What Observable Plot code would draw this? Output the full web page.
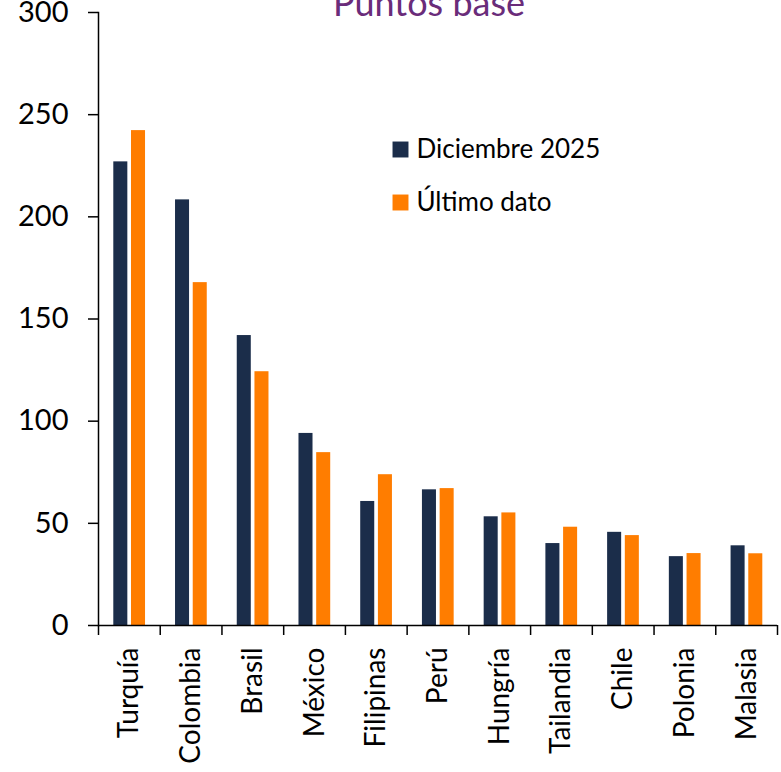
<!DOCTYPE html>
<html><head><meta charset="utf-8">
<script src="https://cdn.jsdelivr.net/npm/d3@7"></script>
<script src="https://cdn.jsdelivr.net/npm/@observablehq/plot@0.6"></script>
<style>body{margin:0;background:#fff} #chart svg{display:block;overflow:visible}</style>
</head><body><div id="chart"></div>
<script>
const countries = ["Turquía","Colombia","Brasil","México","Filipinas","Perú","Hungría","Tailandia","Chile","Polonia","Malasia"];
const series = ["Diciembre 2025","Último dato"];
const dic2025 = [226.9, 208.3, 141.9, 94.0, 60.7, 66.4, 53.2, 40.1, 45.6, 33.7, 39.0];
const ultimo = [242.2, 167.8, 124.2, 84.6, 73.8, 67.0, 55.1, 48.1, 44.0, 35.2, 35.1];
const colors = ["#1b2d4a", "#ff7d00"];
const yTicks = [0, 50, 100, 150, 200, 250, 300];
const title = "Puntos base";

const W = 781, H = 772;
const mL = 98, mR = 4, mT = 12, mB = 147;
const step = (W - mL - mR) / countries.length;

const rows = [];
countries.forEach((c, i) => {
  rows.push({country: c, series: series[0], value: dic2025[i]});
  rows.push({country: c, series: series[1], value: ultimo[i]});
});

const font = "Lato, 'Open Sans', sans-serif";

const legendMarks = series.flatMap((s, i) => [
  Plot.dot([s], {frameAnchor: "top-left", dx: 302, dy: 137 + i * 53, symbol: "square", r: 9, fill: colors[i], stroke: null}),
  Plot.text([s], {frameAnchor: "top-left", dx: 318, dy: 137 + i * 53, text: d => d, textAnchor: "start", lineAnchor: "middle", fontSize: 26, fill: "#000"})
]);

const chart = Plot.plot({
  width: W, height: H,
  marginLeft: mL, marginRight: mR, marginTop: mT, marginBottom: mB,
  style: {fontFamily: font, background: "#fff", color: "#000"},
  x: {domain: countries, padding: 0, round: false, label: null},
  y: {domain: [0, 300], label: null},
  color: {domain: series, range: colors},
  marks: [
    Plot.barY(rows.filter(d => d.series === series[0]), {x: "country", y: "value", fill: "series", insetLeft: 15.3, insetRight: 32.4}),
    Plot.barY(rows.filter(d => d.series === series[1]), {x: "country", y: "value", fill: "series", insetLeft: 33, insetRight: 14.7}),
    Plot.axisY({ticks: yTicks, tickSize: 10, tickPadding: 20, fontSize: 29, label: null, stroke: "#000", strokeWidth: 1.5}),
    Plot.frame({anchor: "left", stroke: "#000", strokeWidth: 1.5}),
    Plot.ruleY([0], {stroke: "#000", strokeWidth: 1.5}),
    Plot.axisX({ticks: countries, tickSize: 10, text: null, dx: -step / 2, stroke: "#000", strokeWidth: 1.5, label: null}),
    Plot.axisX({ticks: [countries[countries.length - 1]], tickSize: 10, text: null, dx: step / 2, stroke: "#000", strokeWidth: 1.5, label: null}),
    Plot.axisX({ticks: countries, tickSize: 0, tickPadding: 22, tickRotate: -90, fontSize: 28, label: null}),
    Plot.text([title], {frameAnchor: "top", dx: -9, dy: 3, lineAnchor: "bottom", text: d => d, fontSize: 36, fill: "#6a2c7a"}),
    ...legendMarks
  ]
});
document.getElementById("chart").append(chart);
</script>
</body></html>
